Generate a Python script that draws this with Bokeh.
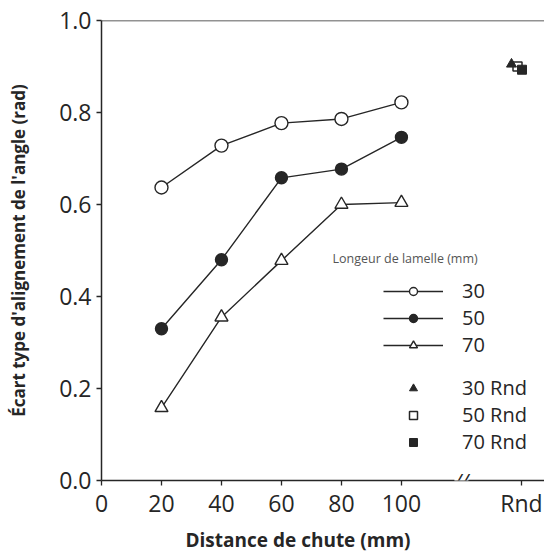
from bokeh.plotting import figure
from bokeh.models import (Range1d, FixedTicker, Legend, LegendItem, Label, Span,
                          PrintfTickFormatter, Title)
from bokeh.transform import dodge
from bokeh.embed import file_html
from bokeh.resources import INLINE

# ---- data ----
distance = [20, 40, 60, 80, 100]
len30 = [0.637, 0.728, 0.777, 0.786, 0.822]
len50 = [0.330, 0.480, 0.658, 0.677, 0.746]
len70 = [0.158, 0.355, 0.478, 0.600, 0.604]
rnd_pos = 140
rnd30 = [0.905]
rnd50 = [0.900]
rnd70 = [0.893]
x_ticks = [0, 20, 40, 60, 80, 100]
y_ticks = [0.0, 0.2, 0.4, 0.6, 0.8, 1.0]
series_labels = ["30", "50", "70"]
rnd_labels = ["30 Rnd", "50 Rnd", "70 Rnd"]
break_pos = 120

FONT = "Open Sans"
INK = "#262626"

p = figure(width=544, height=558, x_range=Range1d(0, 147.7), y_range=Range1d(0, 1.0),
           output_backend="svg", toolbar_location=None,
           min_border_left=101, min_border_right=0, min_border_top=20, min_border_bottom=78)
p.outline_line_color = None
p.grid.visible = False
p.background_fill_color = "white"

# axes
p.xaxis.ticker = FixedTicker(ticks=x_ticks + [rnd_pos])
p.xaxis.major_label_overrides = {rnd_pos: "Rnd"}
p.yaxis.ticker = FixedTicker(ticks=y_ticks)
p.yaxis.formatter = PrintfTickFormatter(format="%.1f")
for ax in (p.xaxis, p.yaxis):
    ax.axis_line_color = INK
    ax.axis_line_width = 1.5
    ax.major_tick_line_color = INK
    ax.major_tick_line_width = 1.3
    ax.major_tick_out = 5
    ax.major_tick_in = 0
    ax.minor_tick_line_color = None
    ax.major_label_text_font = FONT
    ax.major_label_text_font_size = "23px"
    ax.major_label_text_color = INK
p.xaxis.major_label_standoff = 1
p.yaxis.major_label_standoff = 5
p.yaxis.axis_label = "Écart type d'alignement de l'angle (rad)"
p.yaxis.axis_label_text_font = FONT
p.yaxis.axis_label_text_font_style = "bold"
p.yaxis.axis_label_text_font_size = "17px"
p.yaxis.axis_label_text_color = INK
p.yaxis.axis_label_standoff = 26

# x-axis title
p.add_layout(Title(text="Distance de chute (mm)", align="left", offset=84,
                   text_font=FONT, text_font_style="bold", text_font_size="19px",
                   text_color=INK, standoff=7), "below")

# top frame line
p.add_layout(Span(location=1.0, dimension="width", line_color=INK, line_width=1.5))

# series
l30 = p.line(distance, len30, line_color=INK, line_width=1.4)
m30 = p.scatter(distance, len30, marker="circle", size=13, fill_color="white", line_color=INK, line_width=1.4)
l50 = p.line(distance, len50, line_color=INK, line_width=1.4)
m50 = p.scatter(distance, len50, marker="circle", size=12, fill_color=INK, line_color=INK, line_width=1.4)
l70 = p.line(distance, len70, line_color=INK, line_width=1.4)
m70 = p.scatter(distance, len70, marker="triangle", size=13, fill_color="white", line_color=INK, line_width=1.4)

# random-orientation points
src50 = {"x": [rnd_pos], "y": rnd50}
src70 = {"x": [rnd_pos], "y": rnd70}
src30 = {"x": [rnd_pos], "y": rnd30}
r50 = p.scatter(x=dodge("x", -1.3), y="y", source=src50, marker="square", size=9,
                fill_color="white", line_color=INK, line_width=1.5)
r70 = p.scatter(x=dodge("x", 0.2), y="y", source=src70, marker="square", size=9,
                fill_color=INK, line_color=INK)
r30 = p.scatter(x=dodge("x", -3.3), y="y", source=src30, marker="triangle", size=10,
                fill_color=INK, line_color=INK)

# legends
def style_legend(lg):
    lg.padding = 0
    lg.margin = 0
    lg.border_line_color = None
    lg.background_fill_alpha = 0
    lg.glyph_width = 60
    lg.glyph_height = 20
    lg.label_height = 20
    lg.spacing = 0
    lg.label_standoff = 19
    lg.label_text_font = FONT
    lg.label_text_font_size = "20px"
    lg.label_text_color = INK

leg1 = Legend(items=[LegendItem(label=series_labels[0], renderers=[l30, m30]),
                     LegendItem(label=series_labels[1], renderers=[l50, m50]),
                     LegendItem(label=series_labels[2], renderers=[l70, m70])],
              location=(282, 122))
style_legend(leg1)
leg2 = Legend(items=[LegendItem(label=rnd_labels[0], renderers=[r30]),
                     LegendItem(label=rnd_labels[1], renderers=[r50]),
                     LegendItem(label=rnd_labels[2], renderers=[r70])],
              location=(282, 25))
style_legend(leg2)
p.add_layout(leg1)
p.add_layout(leg2)

p.add_layout(Label(x=77, y=0.483, text="Longeur de lamelle (mm)", text_font=FONT,
                   text_font_size="12.5px", text_color="#555555", text_baseline="middle"))

# axis break mark
p.add_layout(Label(x=break_pos, y=0, text="//", text_font=FONT, text_font_style="italic",
                   text_font_size="20px", text_color=INK, text_align="center",
                   text_baseline="middle", background_fill_color="white"))

open("out.html", "w").write(file_html(p, INLINE))
